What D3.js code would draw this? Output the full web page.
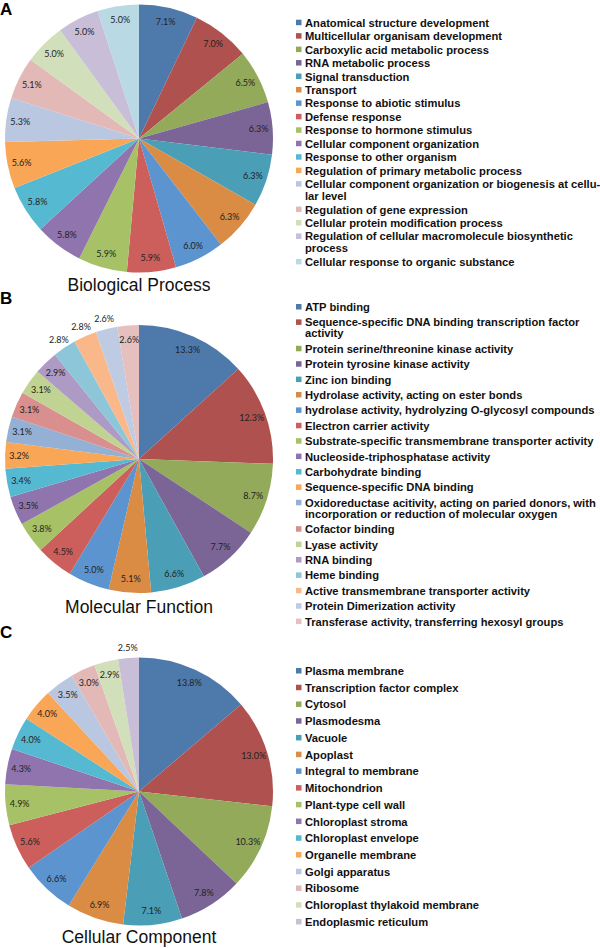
<!DOCTYPE html>
<html><head><meta charset="utf-8">
<script src="https://cdn.jsdelivr.net/npm/d3@7"></script>
<style>body{margin:0;background:#fff}</style>
</head><body>
<svg id="chart" width="600" height="948"></svg>
<script>
// ---------- DATA ----------
const bpCategories = [
  "Anatomical structure development",
  "Multicellular organisam development",
  "Carboxylic acid metabolic process",
  "RNA metabolic process",
  "Signal transduction",
  "Transport",
  "Response to abiotic stimulus",
  "Defense response",
  "Response to hormone stimulus",
  "Cellular component organization",
  "Response to other organism",
  "Regulation of primary metabolic process",
  "Cellular component organization or biogenesis at cellu-\nlar level",
  "Regulation of gene expression",
  "Cellular protein modification process",
  "Regulation of cellular macromolecule biosynthetic\nprocess",
  "Cellular response to organic substance"
];
const bpValues = [7.1, 7.0, 6.5, 6.3, 6.3, 6.3, 6.0, 5.9, 5.9, 5.8, 5.8, 5.6, 5.3, 5.1, 5.0, 5.0, 5.0];

const mfCategories = [
  "ATP binding",
  "Sequence-specific DNA binding transcription factor\nactivity",
  "Protein serine/threonine kinase activity",
  "Protein tyrosine kinase activity",
  "Zinc ion binding",
  "Hydrolase activity, acting on ester bonds",
  "hydrolase activity, hydrolyzing O-glycosyl compounds",
  "Electron carrier activity",
  "Substrate-specific transmembrane transporter activity",
  "Nucleoside-triphosphatase activity",
  "Carbohydrate binding",
  "Sequence-specific DNA binding",
  "Oxidoreductase acitivity, acting on paried donors, with\nincorporation or reduction of molecular oxygen",
  "Cofactor binding",
  "Lyase activity",
  "RNA binding",
  "Heme binding",
  "Active transmembrane transporter activity",
  "Protein Dimerization activity",
  "Transferase activity, transferring hexosyl groups"
];
const mfValues = [13.3, 12.3, 8.7, 7.7, 6.6, 5.1, 5.0, 4.5, 3.8, 3.5, 3.4, 3.2, 3.1, 3.1, 3.1, 2.9, 2.8, 2.8, 2.6, 2.6];

const ccCategories = [
  "Plasma membrane",
  "Transcription factor complex",
  "Cytosol",
  "Plasmodesma",
  "Vacuole",
  "Apoplast",
  "Integral to membrane",
  "Mitochondrion",
  "Plant-type cell wall",
  "Chloroplast stroma",
  "Chloroplast envelope",
  "Organelle membrane",
  "Golgi apparatus",
  "Ribosome",
  "Chloroplast thylakoid membrane",
  "Endoplasmic reticulum"
];
const ccValues = [13.8, 13.0, 10.3, 7.8, 7.1, 6.9, 6.6, 5.6, 4.9, 4.3, 4.0, 4.0, 3.5, 3.0, 2.9, 2.5];

const panelTitles = ["Biological Process", "Molecular Function", "Cellular Component"];
const panelLetters = ["A", "B", "C"];

// ---------- STYLE ----------
const baseColors = ["#4e7aab","#af514e","#93aa5b","#7b6596","#4a9eb5","#da8c45",
                    "#5b94cf","#cc5f5c","#a7c266","#8f74ae","#56b9d2","#f9a757"];
const lightColorsA = ["#b9c7e1","#e3b9b8","#d2dfbb","#c8bed8","#b9d9e4"];
const lightColorsB = ["#94b0d5","#d98f8d","#c0d393","#ad9bc5","#8dc6d9","#fab88a","#bfcbe2","#e5c0bf"];

const svg = d3.select("#chart");
const R = 134;

function drawPanel(cfg) {
  const n = cfg.values.length;
  const color = d3.scaleOrdinal().domain(d3.range(n)).range(cfg.colors);
  const pie = d3.pie().sort(null).value(d => d.v);
  const arcs = pie(cfg.values.map((v, i) => ({ v, i })));
  const arc = d3.arc().innerRadius(0).outerRadius(R);
  const inArc = d3.arc().innerRadius(R * 0.895).outerRadius(R * 0.895);
  const outArc = d3.arc().innerRadius(R + 10).outerRadius(R + 10);

  const g = svg.append("g").attr("transform", `translate(${cfg.cx},${cfg.cy})`);
  g.selectAll("path.slice").data(arcs).join("path")
    .attr("class", "slice")
    .attr("d", arc)
    .attr("fill", d => color(d.data.i));

  g.selectAll("text.lbl").data(arcs).join("text")
    .attr("class", "lbl")
    .attr("transform", d => {
      const c = (cfg.outside.includes(d.data.i) ? outArc : inArc).centroid(d);
      return `translate(${c[0]},${c[1]})`;
    })
    .attr("text-anchor", "middle")
    .attr("dy", "0.35em")
    .attr("font-family", "Lato, 'Open Sans', sans-serif")
    .attr("font-size", 9)
    .attr("fill", "#222")
    .text(d => d3.format(".1f")(d.data.v) + "%");

  // title
  svg.append("text")
    .attr("x", cfg.cx).attr("y", cfg.titleY)
    .attr("text-anchor", "middle")
    .attr("font-family", "'Liberation Sans', Arial, sans-serif")
    .attr("font-size", 17.5)
    .attr("fill", "#111")
    .text(cfg.title);

  // panel letter
  svg.append("text")
    .attr("x", 0).attr("y", cfg.letterY)
    .attr("font-family", "'Liberation Sans', Arial, sans-serif")
    .attr("font-weight", "bold")
    .attr("font-size", 17)
    .attr("fill", "#000")
    .text(cfg.letter);

  // legend
  const lg = svg.append("g");
  let y = cfg.legendY;
  cfg.categories.forEach((cat, i) => {
    const lines = cat.split("\n");
    lg.append("rect")
      .attr("x", 296).attr("y", y - 3)
      .attr("width", 5.5).attr("height", 5.5)
      .attr("fill", color(i));
    const t = lg.append("text")
      .attr("font-family", "'Liberation Sans', Arial, sans-serif")
      .attr("font-weight", "bold")
      .attr("font-size", 11.2)
      .attr("fill", "#111");
    lines.forEach((ln, k) => {
      t.append("tspan").attr("x", 305).attr("y", y + 4 + k * cfg.lineH).text(ln);
    });
    y += cfg.rowH + (lines.length - 1) * cfg.lineH;
  });
}

drawPanel({
  values: bpValues, categories: bpCategories, title: panelTitles[0], letter: panelLetters[0],
  colors: baseColors.concat(lightColorsA),
  cx: 139, cy: 138.5, titleY: 291, letterY: 15,
  legendY: 22.7, rowH: 13.45, lineH: 12, outside: []
});
drawPanel({
  values: mfValues, categories: mfCategories, title: panelTitles[1], letter: panelLetters[1],
  colors: baseColors.concat(lightColorsB),
  cx: 139, cy: 459, titleY: 613, letterY: 304,
  legendY: 307, rowH: 15.4, lineH: 11, outside: [16, 17, 18]
});
drawPanel({
  values: ccValues, categories: ccCategories, title: panelTitles[2], letter: panelLetters[2],
  colors: baseColors.concat(lightColorsA.slice(0, 4)),
  cx: 139, cy: 791.5, titleY: 943, letterY: 638,
  legendY: 671, rowH: 16.73, lineH: 11, outside: [15]
});
</script>
</body></html>
